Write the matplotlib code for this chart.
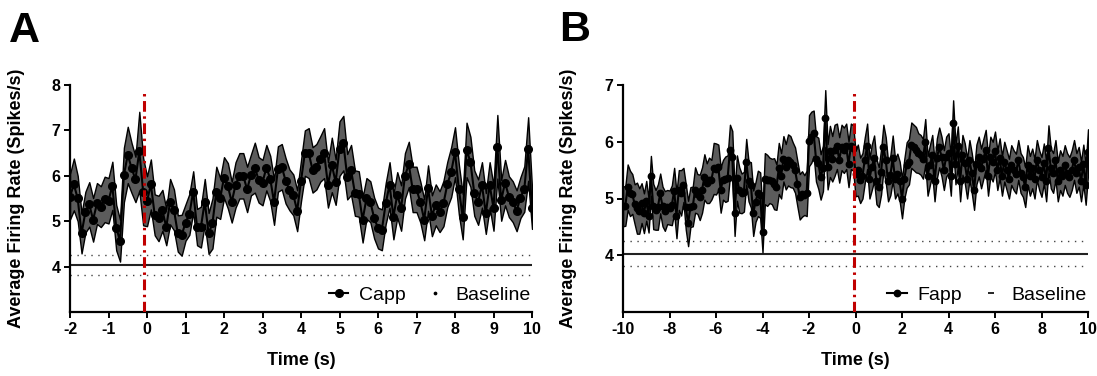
import numpy as np
import matplotlib
matplotlib.use("Agg")
import matplotlib.pyplot as plt
from matplotlib.lines import Line2D

plt.rcParams['font.family'] = ['Liberation Sans', 'DejaVu Sans']
plt.rcParams['axes.unicode_minus'] = False

# ---------------- Data ----------------
# Panel A: Capp, time bins -2 .. 10 s (0.1 s)
time_a = np.round(np.arange(-2.0, 10.0001, 0.1), 2)
capp_mean = [
    5.54, 5.81, 5.50, 4.73, 5.20, 5.37, 5.03, 5.39, 5.32, 5.48,
    5.45, 5.78, 4.86, 4.57, 6.02, 6.46, 6.17, 5.92, 6.54, 5.65,
    5.44, 5.81, 5.14, 5.06, 5.24, 4.87, 5.43, 5.25, 4.73, 4.69,
    4.97, 5.15, 5.65, 4.87, 4.87, 5.43, 4.73, 4.95, 5.65, 5.50,
    5.96, 5.78, 5.42, 5.80, 6.00, 6.00, 5.70, 6.02, 6.18, 5.91,
    5.85, 6.18, 5.94, 5.42, 6.15, 6.20, 5.89, 5.69, 5.58, 5.23,
    5.89, 6.50, 6.50, 6.13, 6.20, 6.37, 6.50, 5.80, 6.24, 5.86,
    6.60, 6.72, 5.98, 6.13, 5.62, 5.60, 5.03, 5.50, 5.43, 5.07,
    4.85, 4.81, 5.39, 5.80, 5.10, 5.58, 5.29, 6.00, 6.25, 5.70,
    5.70, 5.42, 5.03, 5.73, 5.12, 5.36, 5.21, 5.39, 5.81, 6.08,
    6.52, 5.70, 5.10, 6.57, 6.31, 5.62, 5.42, 5.80, 5.17, 5.80,
    5.29, 6.64, 5.46, 5.85, 5.54, 5.43, 5.23, 5.52, 5.71, 6.59, 5.28,
]
capp_sem = [
    0.50, 0.57, 0.50, 0.44, 0.45, 0.49, 0.48, 0.45, 0.45, 0.50,
    0.50, 0.53, 0.50, 0.46, 0.60, 0.62, 0.55, 0.50, 0.87, 0.74,
    0.55, 0.55, 0.45, 0.50, 0.45, 0.40, 0.50, 0.45, 0.40, 0.45,
    0.40, 0.45, 0.45, 0.40, 0.45, 0.50, 0.45, 0.55, 0.55, 0.45,
    0.45, 0.50, 0.45, 0.50, 0.50, 0.50, 0.50, 0.45, 0.55, 0.50,
    0.50, 0.50, 0.50, 0.50, 0.50, 0.50, 0.50, 0.45, 0.45, 0.45,
    0.45, 0.50, 0.55, 0.50, 0.50, 0.50, 0.55, 0.50, 0.60, 0.50,
    0.60, 0.60, 0.50, 0.55, 0.50, 0.50, 0.50, 0.45, 0.45, 0.45,
    0.45, 0.45, 0.45, 0.50, 0.50, 0.50, 0.50, 0.50, 0.50, 0.50,
    0.50, 0.45, 0.45, 0.50, 0.45, 0.45, 0.45, 0.50, 0.50, 0.55,
    0.55, 0.55, 0.50, 0.60, 0.55, 0.50, 0.50, 0.50, 0.45, 0.50,
    0.50, 0.70, 0.45, 0.50, 0.45, 0.45, 0.45, 0.45, 0.50, 0.70, 0.45,
]

# Panel B: Fapp, time bins -10 .. 10 s (0.1 s)
time_b = np.round(np.arange(-10.0, 10.0001, 0.1), 2)
fapp_mean = [
    4.86, 4.87, 5.20, 5.09, 5.08, 4.90, 4.83, 4.78, 4.92, 4.74,
    4.96, 4.70, 5.40, 4.86, 4.80, 4.85, 5.09, 4.86, 4.78, 4.85,
    4.84, 4.88, 5.14, 4.70, 5.15, 5.10, 5.24, 4.85, 4.56, 4.85,
    4.86, 5.15, 5.08, 5.02, 5.15, 5.38, 5.27, 5.32, 5.33, 5.53,
    5.52, 5.55, 5.15, 5.33, 5.34, 5.36, 5.85, 5.74, 4.74, 5.36,
    5.15, 5.09, 5.12, 5.65, 5.30, 5.24, 4.74, 4.94, 5.09, 5.06,
    4.41, 5.35, 5.32, 5.32, 5.30, 5.26, 5.20, 5.53, 5.40, 5.70,
    5.56, 5.68, 5.65, 5.59, 5.50, 5.26, 5.03, 5.08, 5.06, 5.09,
    6.02, 6.08, 6.15, 5.70, 5.62, 5.38, 5.53, 6.41, 5.56, 5.83,
    5.70, 5.85, 5.92, 5.68, 5.90, 5.85, 5.92, 5.60, 5.92, 5.89,
    5.44, 5.50, 5.32, 5.40, 5.68, 5.92, 5.35, 5.55, 5.71, 5.30,
    5.20, 5.47, 5.90, 5.68, 5.30, 5.41, 5.71, 5.35, 5.44, 5.30,
    5.00, 5.35, 5.59, 5.65, 5.94, 5.90, 5.86, 5.80, 5.77, 5.70,
    6.00, 5.40, 5.59, 5.77, 5.30, 5.71, 5.90, 5.74, 5.50, 5.74,
    5.80, 5.40, 6.33, 5.60, 5.92, 5.30, 5.77, 5.62, 5.35, 5.68,
    5.45, 5.15, 5.60, 5.74, 5.53, 5.70, 5.86, 5.40, 5.74, 5.65,
    5.83, 5.50, 5.71, 5.40, 5.65, 5.50, 5.35, 5.59, 5.50, 5.44,
    5.68, 5.45, 5.38, 5.20, 5.59, 5.40, 5.53, 5.35, 5.68, 5.50,
    5.38, 5.62, 5.30, 5.89, 5.53, 5.45, 5.68, 5.30, 5.50, 5.40,
    5.59, 5.45, 5.38, 5.50, 5.68, 5.45, 5.56, 5.30, 5.60, 5.24, 5.82,
]
fapp_sem = [
    0.35, 0.35, 0.40, 0.40, 0.35, 0.35, 0.45, 0.40, 0.35, 0.35,
    0.35, 0.30, 0.35, 0.40, 0.35, 0.40, 0.35, 0.35, 0.35, 0.30,
    0.30, 0.35, 0.40, 0.40, 0.35, 0.40, 0.30, 0.40, 0.40, 0.35,
    0.35, 0.40, 0.35, 0.40, 0.40, 0.40, 0.35, 0.40, 0.35, 0.45,
    0.45, 0.40, 0.40, 0.35, 0.40, 0.40, 0.45, 0.45, 0.40, 0.40,
    0.40, 0.35, 0.35, 0.40, 0.35, 0.40, 0.40, 0.35, 0.40, 0.40,
    0.36, 0.45, 0.45, 0.40, 0.40, 0.45, 0.40, 0.45, 0.40, 0.40,
    0.40, 0.45, 0.45, 0.40, 0.40, 0.40, 0.40, 0.40, 0.35, 0.40,
    0.45, 0.45, 0.40, 0.40, 0.45, 0.40, 0.40, 0.50, 0.40, 0.45,
    0.40, 0.45, 0.40, 0.40, 0.40, 0.40, 0.40, 0.40, 0.40, 0.40,
    0.40, 0.45, 0.40, 0.40, 0.40, 0.40, 0.35, 0.40, 0.40, 0.40,
    0.35, 0.40, 0.40, 0.40, 0.35, 0.35, 0.40, 0.35, 0.35, 0.35,
    0.35, 0.35, 0.40, 0.40, 0.40, 0.40, 0.40, 0.35, 0.35, 0.35,
    0.40, 0.35, 0.35, 0.35, 0.35, 0.35, 0.35, 0.35, 0.35, 0.35,
    0.35, 0.35, 0.40, 0.35, 0.35, 0.35, 0.35, 0.35, 0.35, 0.35,
    0.35, 0.35, 0.35, 0.35, 0.35, 0.35, 0.35, 0.35, 0.35, 0.35,
    0.35, 0.35, 0.35, 0.35, 0.35, 0.35, 0.35, 0.35, 0.35, 0.35,
    0.35, 0.35, 0.35, 0.35, 0.35, 0.35, 0.35, 0.35, 0.35, 0.35,
    0.35, 0.35, 0.35, 0.40, 0.35, 0.35, 0.35, 0.35, 0.35, 0.35,
    0.35, 0.35, 0.35, 0.35, 0.35, 0.35, 0.35, 0.35, 0.35, 0.35, 0.40,
]

baseline_mean = 4.03
baseline_sd = 0.22
stim_time = -0.08

xticks_a = list(range(-2, 11, 1))
xticks_b = list(range(-10, 11, 2))
yticks_a = [4, 5, 6, 7, 8]
yticks_b = [4, 5, 6, 7]

# ---------------- Figure ----------------
W, H = 1097, 376
fig = plt.figure(figsize=(W / 100, H / 100), dpi=100)
axA = fig.add_axes([70 / W, 1 - 312 / H, 462 / W, 227 / H])
axB = fig.add_axes([623 / W, 1 - 312 / H, 465 / W, 227 / H])


def draw_panel(ax, t, m, s, xlim, ylim, xticks, yticks, label, msize,
               base_marker, base_msize):
    t = np.asarray(t)
    m = np.asarray(m)
    s = np.asarray(s)
    ax.fill_between(t, m - s, m + s, facecolor='#5c5c5c', edgecolor='black',
                    linewidth=1.0, zorder=2)
    ax.plot(t, m, '-o', color='black', lw=1.5, markersize=msize, zorder=3)
    # baseline
    ax.axhline(baseline_mean, color='#222222', lw=1.5, zorder=1)
    ax.axhline(baseline_mean + baseline_sd, color='#444444', lw=1.0,
               linestyle=(0, (1, 4)), zorder=1)
    ax.axhline(baseline_mean - baseline_sd, color='#444444', lw=1.0,
               linestyle=(0, (1, 4)), zorder=1)
    ax.axvline(stim_time, ymin=0, ymax=0.98, color='#c00000', lw=2.2,
               linestyle=(0, (3.5, 1.5, 0.8, 1.5)), zorder=4)
    ax.set_xlim(*xlim)
    ax.set_ylim(*ylim)
    ax.set_xticks(xticks)
    ax.set_xticklabels([str(v) for v in xticks])
    ax.set_yticks(yticks)
    ax.set_yticklabels([str(v) for v in yticks])
    for sp in ['top', 'right']:
        ax.spines[sp].set_visible(False)
    for sp in ['left', 'bottom']:
        ax.spines[sp].set_linewidth(1.6)
    ax.tick_params(direction='out', length=4, width=1.4, labelsize=11.5,
                   pad=3)
    for lab in ax.get_xticklabels() + ax.get_yticklabels():
        lab.set_fontweight('bold')
    ax.set_xlabel('Time (s)', fontsize=13, fontweight='bold')
    ax.set_ylabel('Average Firing Rate (Spikes/s)', fontsize=13,
                  fontweight='bold')
    ax.xaxis.set_label_coords(0.5, -0.175)
    ax.yaxis.set_label_coords(-0.098, 0.5)
    h1 = Line2D([], [], color='black', lw=1.5, marker='o', markersize=msize)
    h2 = Line2D([], [], color='black', lw=0, marker=base_marker,
                markersize=base_msize, markeredgewidth=1.2)
    ax.legend([h1, h2], [label, 'Baseline'], loc='lower right', ncol=2,
              frameon=False, fontsize=14, handlelength=1.0,
              handletextpad=0.55, columnspacing=1.0,
              bbox_to_anchor=(1.014, 0.0), borderaxespad=0.0)


draw_panel(axA, time_a, capp_mean, capp_sem, (-2, 10), (3, 8), xticks_a,
           yticks_a, 'Capp', 5.5, '.', 3)
draw_panel(axB, time_b, fapp_mean, fapp_sem, (-10, 10), (3, 7), xticks_b,
           yticks_b, 'Fapp', 4.6, '_', 4)

fig.text(9 / W, 1 - 42 / H, 'A', fontsize=31, fontweight='bold',
         va='baseline', ha='left')
fig.text(559 / W, 1 - 41 / H, 'B', fontsize=31, fontweight='bold',
         va='baseline', ha='left')

fig.savefig('out.png', dpi=100)
